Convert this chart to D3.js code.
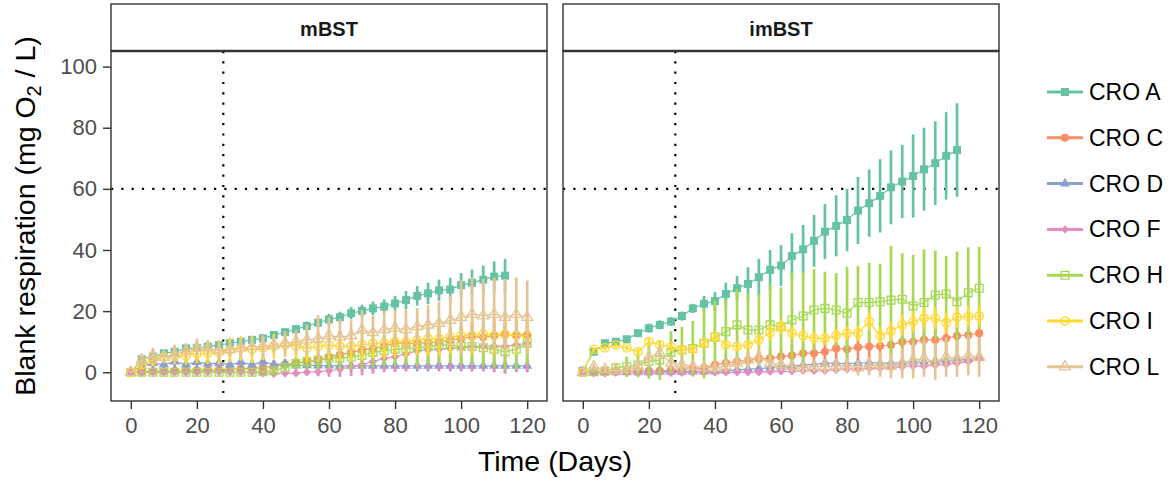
<!DOCTYPE html>
<html>
<head>
<meta charset="utf-8">
<script src="https://cdn.jsdelivr.net/npm/d3@7"></script>
<style>
  html, body { margin: 0; padding: 0; background: #ffffff; }
  svg { display: block; }
  text { font-family: "Liberation Sans", Arial, sans-serif; }
</style>
</head>
<body>
<svg id="chart" width="1171" height="481"></svg>
<script>
// ---------------- DATA ----------------
const days = [0, 3.3, 6.7, 10, 13.3, 16.7, 20, 23.3, 26.7, 30, 33.3, 36.7, 40, 43.3, 46.7, 50, 53.3, 56.7, 60, 63.3, 66.7, 70, 73.3, 76.7, 80, 83.3, 86.7, 90, 93.3, 96.7, 100, 103.3, 106.7, 110, 113.3, 116.7, 120];
const panels = ["mBST", "imBST"];
const seriesNames = ["CRO A", "CRO C", "CRO D", "CRO F", "CRO H", "CRO I", "CRO L"];
const xTicks = [0, 20, 40, 60, 80, 100, 120];
const yTicks = [0, 20, 40, 60, 80, 100];
const refDay = 28;
const refLevel = 60;

// mBST panel: means and standard errors
const mbstA   = [0, 4.25, 5.1, 6.2, 6.7, 7.8, 8.0, 8.4, 8.9, 9.5, 10, 10.6, 11.1, 12.2, 13.1, 14.1, 15.1, 16.2, 17.3, 18, 19.3, 20.1, 20.9, 21.5, 22.5, 23.6, 25, 25.8, 26.8, 27.1, 28.5, 29.3, 30.3, 31.3, 31.6];
const mbstAse = [0.3, 1, 1, 1, 1, 1, 1, 1.2, 1.2, 1.2, 1.2, 1.2, 1.3, 1.3, 1.3, 1.4, 1.5, 1.5, 1.8, 1.8, 2, 2, 2.2, 2.3, 2.5, 3, 3.2, 3.5, 3.5, 3.8, 4, 4.3, 4.6, 5, 5.5];
const mbstC   = [0, 0.2, 0.3, 0.3, 0.4, 0.5, 0.6, 0.8, 0.8, 1, 1.1, 1.3, 1.5, 2, 2.5, 3, 3.5, 4, 5, 5.7, 6.5, 7.3, 7.8, 8.5, 9.5, 9.3, 9.5, 9.8, 10, 10.5, 11, 11.6, 11.5, 12, 12.2, 12.2, 12.3];
const mbstCse = [0.2, 0.5, 0.5, 0.5, 0.5, 0.6, 0.6, 0.7, 0.8, 0.8, 1, 1, 1.2, 1.5, 1.5, 1.8, 2, 2, 2.2, 2.5, 2.5, 2.8, 3, 3, 3, 3.2, 3.2, 3.5, 3.5, 3.5, 3.8, 4, 4, 4, 4.2, 4.2, 4.5];
const mbstD   = [0, 2, 3, 2.5, 3.5, 2.5, 3.3, 2.8, 3, 2.5, 3.3, 2.5, 3.5, 2.5, 2.8, 2.2, 2.3, 2.2, 2.2, 2.1, 2.1, 2.1, 2.1, 2.1, 2.1, 2.1, 2.1, 2.1, 2.1, 2.1, 2.1, 2.1, 2.1, 2.1, 2.1, 2.1, 2.1];
const mbstDse = [0.2, 1.5, 2, 1.5, 2.5, 1.5, 2.5, 1.5, 2, 1.5, 2.5, 1.5, 2.5, 1.5, 1.5, 1.5, 1.5, 1.6, 1.6, 1.7, 1.7, 1.8, 1.8, 1.8, 1.8, 1.8, 1.8, 1.8, 1.8, 1.8, 1.8, 1.8, 1.8, 1.8, 1.8, 1.8, 1.8];
const mbstF   = [0, 0, 0, 0, 0, 0, 0, 0.1, 0.1, 0.1, 0, 0, -0.3, -0.5, -0.3, -0.3, 0, 0.2, 0.5, 1, 1.8, 2.5, 3.5, 4.5, 5.1, 6, 7, 7.3, 7.5, 7.8, 8, 8.4, 8.4, 8.5, 8.5, 9, 9.5];
const mbstFse = [0.1, 0.2, 0.2, 0.2, 0.2, 0.2, 0.2, 0.3, 0.3, 0.3, 0.3, 0.3, 0.5, 0.5, 0.6, 0.8, 1, 1.5, 2, 2.5, 3, 3.5, 4, 4.5, 5, 5.5, 6, 6.5, 7, 7, 7.5, 8, 8, 8.5, 9, 9, 9.5];
const mbstH   = [0, 0, 0, 0, 0, 0, 0, 0, 0, 0, 0, 0, 0.2, 0.5, 1.5, 2.9, 3.5, 4, 4.6, 4.6, 5, 5.5, 6.5, 7, 7.5, 7.8, 8, 8.4, 8.9, 8.9, 8.5, 8.4, 8, 7.5, 6.7, 7.5, 9.5];
const mbstHse = [0.1, 0.2, 0.2, 0.2, 0.2, 0.2, 0.2, 0.2, 0.2, 0.2, 0.2, 0.2, 0.5, 1, 1.5, 2, 2.5, 3, 3.5, 4, 4, 4.5, 5, 5, 5.5, 5.5, 6, 6, 6, 6, 6, 6, 6, 6, 6, 6.5, 7];
const mbstI   = [0, 2.5, 4, 5, 5.1, 5.5, 6, 6.2, 6.5, 7.3, 7.8, 7.5, 8, 8.5, 8.9, 8.5, 7.9, 8.5, 8.9, 8.5, 8.5, 9, 9.5, 9.5, 10, 10, 10.5, 11, 11, 11.5, 12, 12, 12.5, 12, 12.5, 12, 12];
const mbstIse = [0.2, 1.5, 2, 2, 2.5, 3, 3, 3.5, 4, 4, 4, 4.5, 4, 4, 4, 4, 4.5, 4.5, 4.5, 5, 5, 5, 5, 5, 5, 5, 5, 5.5, 5.5, 5.5, 6, 6, 6, 6, 6, 6, 6];
const mbstL   = [0, 4, 5.5, 5, 6, 7, 8, 8, 7, 7.5, 8, 8.4, 8.5, 9, 9.5, 10, 10.6, 11, 12, 11.5, 12, 13.8, 13, 14, 14.5, 14, 15, 15.5, 16, 17, 18, 19, 18.5, 19, 18, 19, 18];
const mbstLse = [0.2, 2, 2.5, 2, 3, 2.5, 3, 2.5, 3, 2.5, 3, 3, 3.5, 3, 4, 4, 5, 7.7, 6, 6, 5, 6.5, 5.5, 6, 6, 6.5, 6, 6.5, 7, 8, 12, 12, 12, 12, 12.5, 12, 12];

// imBST panel: means and standard errors
const imbstA   = [0.5, 6.7, 9.5, 10, 10.8, 12.8, 14.4, 15.5, 16.6, 18.4, 20.9, 22.4, 23.3, 25.6, 27.5, 28.9, 31.1, 33.5, 34.9, 38, 40.2, 43, 46, 47.9, 49.8, 52.9, 55.3, 57.7, 60.5, 62.4, 64.2, 66.4, 68.4, 70.8, 72.7];
const imbstAse = [0.5, 1, 1, 1, 1, 1.2, 1.5, 1.5, 1.5, 1.5, 1.5, 2.6, 3, 3.7, 4, 5.5, 6, 6.5, 6.7, 7.5, 8, 8.5, 9, 10, 10.2, 11, 11, 12, 12.1, 12, 13.6, 13.6, 13.7, 14.3, 15.3];
const imbstC   = [0, 0, 0.2, 0.3, 0.3, 0.4, 0.5, 0.5, 0.6, 0.8, 1, 1.5, 2.4, 3, 3.5, 4, 4.3, 4.6, 5.1, 5.5, 6.2, 6.2, 6.7, 7.8, 7.5, 8.2, 8.4, 8.6, 8.9, 10, 10, 10.6, 10.6, 11.1, 11.9, 12.2, 12.8];
const imbstCse = [0.1, 0.2, 0.3, 0.3, 0.4, 0.4, 0.5, 0.5, 0.6, 0.7, 0.8, 1, 1.5, 2, 2, 2.5, 2.5, 3, 3, 3.5, 3.5, 4, 4, 4.4, 4.5, 4.5, 5, 5, 5.5, 5.5, 6, 6, 6, 6.5, 6.5, 7, 7];
const imbstD   = [0, 0, 0, 0, 0, 0, 0, 0.1, 0.1, 0.1, 0.2, 0.2, 0.3, 0.5, 0.8, 1, 1.2, 1.5, 1.8, 2, 2.4, 2.6, 3, 3, 2.8, 3, 3.2, 3, 3, 3.2, 3.4, 3.5, 3.5, 3.8, 4, 4.2, 4.6];
const imbstDse = [0.1, 0.2, 0.2, 0.2, 0.2, 0.2, 0.2, 0.3, 0.3, 0.3, 0.3, 0.3, 0.4, 0.5, 0.6, 0.7, 0.8, 0.9, 1, 1, 1, 1, 1, 1, 1, 1, 1, 1, 1, 1, 1.2, 1.2, 1.2, 1.2, 1.2, 1.2, 1.2];
const imbstF   = [0, -0.3, -0.3, -0.2, -0.2, -0.3, -0.3, -0.2, -0.2, -0.2, -0.2, -0.2, -0.1, 0, 0, 0, 0, 0.2, 0.3, 0.3, 0.5, 0.5, 0.5, 0.8, 1, 1, 1.2, 1.3, 1.5, 1.8, 2, 2, 2.3, 2.5, 3, 3.5, 4.5];
const imbstFse = [0.1, 0.3, 0.3, 0.3, 0.3, 0.3, 0.3, 0.3, 0.3, 0.3, 0.3, 0.3, 0.3, 0.4, 0.4, 0.4, 0.4, 0.5, 0.5, 0.5, 0.5, 0.6, 0.6, 0.6, 0.7, 0.7, 0.7, 0.8, 0.8, 0.8, 0.9, 0.9, 0.9, 1, 1, 1, 1.2];
const imbstH   = [0, 0.2, 0.3, 1.5, 1.8, 2.4, 3.5, 4, 6.5, 7.3, 7.8, 9.5, 11.5, 13.3, 15.5, 13.8, 13.8, 15.5, 14.9, 17.1, 18.4, 20.4, 20.9, 20.4, 19.3, 22.8, 22.8, 23.1, 23.6, 23.9, 21.7, 22.8, 25.3, 25.6, 23.1, 26, 27.5];
const imbstHse = [0.2, 0.3, 0.5, 1.5, 3.3, 4, 5.6, 6.5, 7, 7.6, 9, 11.5, 12, 10.4, 11.7, 12, 11.8, 13, 12.9, 15.5, 14.5, 13.3, 12, 12, 15.2, 12, 13, 12.3, 17.8, 15, 16.7, 17.4, 14.5, 12.5, 16.4, 14.9, 13.5];
const imbstI   = [0, 7.5, 8, 8.9, 8, 6.7, 10, 9, 8.4, 7.3, 7.5, 9.5, 11.6, 9, 8.4, 9, 10.6, 13, 14.9, 12.8, 12, 11.1, 11.1, 12, 12.8, 12.8, 16.6, 11.9, 13.5, 15.5, 16.5, 17.7, 17.7, 16.2, 18, 18.2, 18.4];
const imbstIse = [0.2, 0.8, 0.8, 0.8, 0.8, 1, 1, 1, 1, 1, 1.2, 1.2, 1.5, 1.5, 1.5, 1.5, 2, 2.5, 2.5, 2, 2, 2, 2, 2.2, 2.2, 2.5, 3, 3, 3, 3.5, 3.5, 3.5, 3.5, 3.5, 3.5, 3.5, 3.5];
const imbstL   = [0, 1.8, 1, 0.5, 1, 2, 5, 6.3, 3, 2.5, 2, 1.5, 1.5, 2, 3, 4, 5.1, 3, 2.5, 2, 1.5, 2, 1.8, 2, 2.2, 1.5, 2, 2.5, 2, 3, 4, 4.5, 3.5, 5, 4.5, 5.5, 5];
const imbstLse = [0.2, 1, 1, 0.8, 1, 2, 3, 2.5, 2, 2, 1.5, 1.5, 1.5, 2, 2.5, 3, 3, 2.5, 2, 2, 2, 2, 2.5, 2.5, 2.5, 2.5, 3, 4, 4, 5, 6, 6, 6, 6.5, 6, 6.5, 6.5];

// ---------------- STYLE ----------------
const colors = ["#66C2A5", "#FC8D62", "#8DA0CB", "#E78AC3", "#A6D854", "#FFD92F", "#E5C494"];
const shapes = ["square", "circle", "triangle", "diamond", "osquare", "ocircle", "otriangle"];

const panelData = {
  mBST: [[mbstA, mbstAse], [mbstC, mbstCse], [mbstD, mbstDse], [mbstF, mbstFse], [mbstH, mbstHse], [mbstI, mbstIse], [mbstL, mbstLse]],
  imBST: [[imbstA, imbstAse], [imbstC, imbstCse], [imbstD, imbstDse], [imbstF, imbstFse], [imbstH, imbstHse], [imbstI, imbstIse], [imbstL, imbstLse]]
};

function seriesRows(panel, si) {
  const [m, se] = panelData[panel][si];
  return m.map((v, i) => ({ day: days[i], mean: v, se: se[i] }));
}

// ---------------- LAYOUT ----------------
const svg = d3.select("#chart");
const panelTop = 51, panelBottom = 401, stripTop = 4;
const panelX = { mBST: [111, 547], imBST: [563, 999] };
const y = d3.scaleLinear().domain([-9.4, 105.1]).range([panelBottom, panelTop]);
const frameColor = "#333333";
const FONT = '"Liberation Sans", Arial, sans-serif';

function symbolPath(shape) {
  switch (shape) {
    case "square": return d3.symbol(d3.symbolSquare, 64)();
    case "circle": return d3.symbol(d3.symbolCircle, 52)();
    case "triangle": return d3.symbol(d3.symbolTriangle, 44)();
    case "diamond": return "M0,-4.2L4.2,0L0,4.2L-4.2,0Z";
    case "osquare": return d3.symbol(d3.symbolSquare, 60)();
    case "ocircle": return d3.symbol(d3.symbolCircle, 56)();
    case "otriangle": return d3.symbol(d3.symbolTriangle, 50)();
  }
}
function isOpen(shape) { return shape.startsWith("o"); }

function drawMarker(g, shape, color, cx, cy) {
  g.append("path")
    .attr("d", symbolPath(shape))
    .attr("transform", `translate(${cx},${cy})`)
    .attr("fill", isOpen(shape) ? "none" : color)
    .attr("stroke", isOpen(shape) ? color : "none")
    .attr("stroke-width", isOpen(shape) ? 1.3 : 0);
}

panels.forEach(panel => {
  const [x0, x1] = panelX[panel];
  const x = d3.scaleLinear().domain([-6, 126]).range([x0, x1]);
  const g = svg.append("g");

  const clipId = "clip-" + panel;
  svg.append("clipPath").attr("id", clipId)
    .append("rect").attr("x", x0).attr("y", panelTop).attr("width", x1 - x0).attr("height", panelBottom - panelTop);
  const plot = g.append("g").attr("clip-path", `url(#${clipId})`);

  // reference lines
  plot.append("line")
    .attr("x1", x(refDay)).attr("x2", x(refDay))
    .attr("y1", panelTop).attr("y2", panelBottom)
    .attr("stroke", "#000").attr("stroke-width", 2.2).attr("stroke-dasharray", "2.2,8.1");
  plot.append("line")
    .attr("x1", x0).attr("x2", x1)
    .attr("y1", y(refLevel)).attr("y2", y(refLevel))
    .attr("stroke", "#000").attr("stroke-width", 2.2).attr("stroke-dasharray", "2.2,8.1");

  seriesNames.forEach((name, si) => {
    const rows = seriesRows(panel, si);
    const sg = plot.append("g");
    sg.selectAll("line.err").data(rows).join("line")
      .attr("class", "err")
      .attr("x1", d => x(d.day)).attr("x2", d => x(d.day))
      .attr("y1", d => y(d.mean - d.se)).attr("y2", d => y(d.mean + d.se))
      .attr("stroke", colors[si]).attr("stroke-width", 2.7);
    sg.append("path")
      .datum(rows)
      .attr("d", d3.line().x(d => x(d.day)).y(d => y(d.mean)))
      .attr("fill", "none")
      .attr("stroke", colors[si]).attr("stroke-width", 1.2);
    rows.forEach(d => drawMarker(sg, shapes[si], colors[si], x(d.day), y(d.mean)));
  });

  // panel border
  g.append("rect")
    .attr("x", x0).attr("y", panelTop).attr("width", x1 - x0).attr("height", panelBottom - panelTop)
    .attr("fill", "none").attr("stroke", frameColor).attr("stroke-width", 1.4);

  // strip
  g.append("rect")
    .attr("x", x0).attr("y", stripTop).attr("width", x1 - x0).attr("height", panelTop - stripTop)
    .attr("fill", "#ffffff").attr("stroke", frameColor).attr("stroke-width", 1.4);
  g.append("line")
    .attr("x1", x0).attr("x2", x1).attr("y1", panelTop).attr("y2", panelTop)
    .attr("stroke", frameColor).attr("stroke-width", 2.4);
  g.append("text")
    .attr("x", (x0 + x1) / 2).attr("y", (stripTop + panelTop) / 2 + 1)
    .attr("text-anchor", "middle").attr("dominant-baseline", "central")
    .attr("font-size", 20).attr("font-weight", "bold").attr("fill", "#1A1A1A")
    .text(panel);

  // x axis
  const xa = g.append("g").attr("transform", `translate(0,${panelBottom})`)
    .call(d3.axisBottom(x).tickValues(xTicks).tickSize(8).tickPadding(8).tickFormat(d3.format("d")));
  xa.select(".domain").remove();
  xa.selectAll(".tick line").attr("stroke", frameColor).attr("stroke-width", 1.4);
  xa.selectAll(".tick text").attr("fill", "#4D4D4D").attr("font-size", 22).attr("font-family", FONT);

  if (panel === "mBST") {
    const ya = g.append("g").attr("transform", `translate(${x0},0)`)
      .call(d3.axisLeft(y).tickValues(yTicks).tickSize(8).tickPadding(6).tickFormat(d3.format("d")));
    ya.select(".domain").remove();
    ya.selectAll(".tick line").attr("stroke", frameColor).attr("stroke-width", 1.4);
    ya.selectAll(".tick text").attr("fill", "#4D4D4D").attr("font-size", 22).attr("font-family", FONT);
  }
});

// axis titles
svg.append("text")
  .attr("x", 555).attr("y", 471)
  .attr("text-anchor", "middle").attr("font-size", 28.5).attr("fill", "#000")
  .text("Time (Days)");

const yt = svg.append("text")
  .attr("transform", `translate(35,216) rotate(-90)`)
  .attr("text-anchor", "middle").attr("font-size", 28.5).attr("fill", "#000");
yt.append("tspan").text("Blank respiration (mg O");
yt.append("tspan").attr("font-size", 20).attr("dy", 6).text("2");
yt.append("tspan").attr("dy", -6).text(" / L)");

// legend
const legendX0 = 1047, legendX1 = 1083, legendY0 = 92, legendStep = 45.8;
seriesNames.forEach((name, si) => {
  const ly = legendY0 + si * legendStep;
  const lg = svg.append("g");
  lg.append("line").attr("x1", legendX0).attr("x2", legendX1).attr("y1", ly).attr("y2", ly)
    .attr("stroke", colors[si]).attr("stroke-width", 3);
  drawMarker(lg, shapes[si], colors[si], (legendX0 + legendX1) / 2, ly);
  lg.append("text").attr("x", 1089).attr("y", ly).attr("dominant-baseline", "central")
    .attr("font-size", 23).attr("fill", "#000").text(name);
});
</script>
</body>
</html>
